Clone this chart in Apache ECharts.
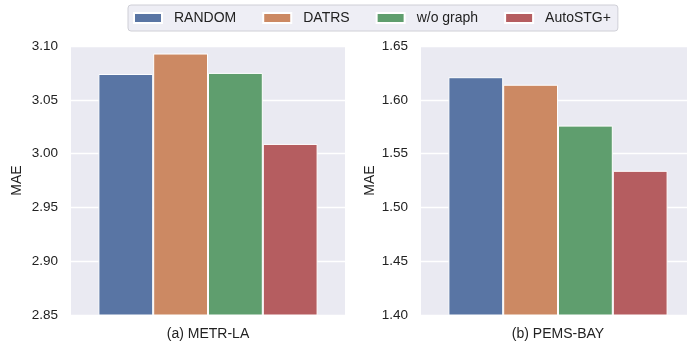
<!DOCTYPE html>
<html>
<head>
<meta charset="utf-8">
<script src="https://cdn.jsdelivr.net/npm/echarts@6/dist/echarts.min.js"></script>
<style>html,body{margin:0;padding:0;background:#fff;overflow:hidden;width:687px;height:346px;}#c{width:700px;height:346px;}</style>
</head>
<body>
<div id="c"></div>
<script>
const methods = ['RANDOM', 'DATRS', 'w/o graph', 'AutoSTG+'];
const colors = ['#5975a4', '#cc8963', '#5f9e6e', '#b55d60'];
const datasets = ['(a) METR-LA', '(b) PEMS-BAY'];
const metrLA = [3.074, 3.093, 3.075, 3.009];
const pemsBay = [1.621, 1.614, 1.576, 1.534];
const yTicksA = [2.85, 2.90, 2.95, 3.00, 3.05, 3.10];
const yTicksB = [1.40, 1.45, 1.50, 1.55, 1.60, 1.65];

const font = 'Liberation Sans, Arial, sans-serif';
const allValues = [metrLA, pemsBay];
const allTicks = [yTicksA, yTicksB];

const chart = echarts.init(document.getElementById('c'), null, {renderer: 'canvas'});

const grids = [
  {left: 71, top: 46, width: 274, height: 269},
  {left: 421, top: 46, width: 274, height: 269}
].map(g => Object.assign({show: true, backgroundColor: '#eaeaf2', borderWidth: 0}, g));

const xAxes = datasets.map((d, i) => ({
  type: 'category', gridIndex: i, data: [d],
  axisLine: {show: false}, axisTick: {show: false},
  axisLabel: {color: '#222', fontFamily: font, fontSize: 14, margin: 12},
  splitLine: {show: false}
}));

const yAxes = allTicks.map((t, i) => ({
  type: 'value', gridIndex: i, min: t[0], max: t[t.length - 1], interval: 0.05,
  name: 'MAE', nameLocation: 'middle', nameGap: i === 0 ? 47 : 44,
  nameTextStyle: {color: '#222', fontFamily: font, fontSize: 14},
  axisLine: {show: false}, axisTick: {show: false},
  axisLabel: {color: '#222', fontFamily: font, fontSize: 13.5, margin: 13, formatter: v => v.toFixed(2)},
  splitLine: {show: true, lineStyle: {color: '#ffffff', width: 1.3}}
}));

const series = [];
allValues.forEach((vals, gi) => {
  methods.forEach((m, mi) => {
    series.push({
      name: m, type: 'bar', xAxisIndex: gi, yAxisIndex: gi,
      data: [vals[mi]],
      barGap: '0%', barCategoryGap: '20%',
      itemStyle: {color: colors[mi], borderColor: '#ffffff', borderWidth: 1},
      emphasis: {disabled: true},
      animation: false
    });
  });
});

chart.setOption({
  animation: false,
  color: colors,
  grid: grids,
  xAxis: xAxes,
  yAxis: yAxes,
  legend: {
    data: methods,
    left: 128, top: 5,
    padding: [6, 7, 6, 5],
    itemWidth: 28, itemHeight: 10, itemGap: 26,
    icon: 'rect',
    backgroundColor: 'rgba(234,234,242,0.8)',
    borderColor: '#cfcfd6', borderWidth: 1, borderRadius: 3,
    textStyle: {color: '#222', fontFamily: font, fontSize: 14, padding: [0, 0, 0, 7]},
    selectedMode: false
  },
  series: series
});
</script>
</body>
</html>
